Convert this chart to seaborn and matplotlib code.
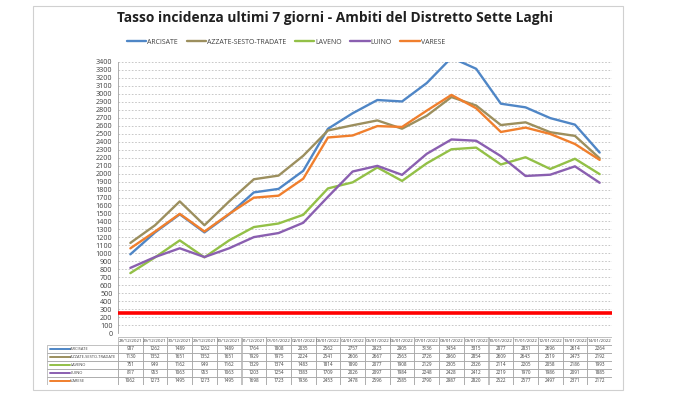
import matplotlib
matplotlib.use("Agg")
import matplotlib.pyplot as plt
import seaborn as sns
import pandas as pd
from matplotlib.patches import Rectangle
from matplotlib.lines import Line2D

dates = ["28/12/2021", "29/12/2021", "30/12/2021", "29/12/2021", "30/12/2021",
         "31/12/2021", "01/01/2022", "02/01/2022", "03/01/2022", "04/01/2022",
         "05/01/2022", "06/01/2022", "07/01/2022", "08/01/2022", "09/01/2022",
         "10/01/2022", "11/01/2022", "12/01/2022", "13/01/2022", "14/01/2022"]
arcisate = [987, 1262, 1489, 1262, 1489, 1764, 1808, 2035, 2562, 2757,
            2923, 2905, 3136, 3454, 3315, 2877, 2831, 2696, 2614, 2264]
azzate = [1130, 1352, 1651, 1352, 1651, 1929, 1975, 2224, 2541, 2606,
          2667, 2563, 2726, 2960, 2854, 2609, 2643, 2519, 2473, 2192]
laveno = [751, 949, 1162, 949, 1162, 1329, 1374, 1483, 1814, 1890,
          2077, 1908, 2129, 2305, 2326, 2114, 2205, 2058, 2186, 1993]
luino = [817, 953, 1063, 953, 1063, 1203, 1254, 1383, 1709, 2026,
         2097, 1984, 2248, 2428, 2412, 2219, 1970, 1986, 2091, 1885]
varese = [1062, 1273, 1495, 1273, 1495, 1698, 1723, 1936, 2453, 2478,
          2596, 2585, 2790, 2987, 2820, 2522, 2577, 2497, 2371, 2172]
series_names = ["ARCISATE", "AZZATE-SESTO-TRADATE", "LAVENO", "LUINO", "VARESE"]
threshold = 250

series = [arcisate, azzate, laveno, luino, varese]
colors = ["#4F86C6", "#9C8F5E", "#93C047", "#8A5FB0", "#F07F2D"]

rows = []
for name, vals in zip(series_names, series):
    for i, v in enumerate(vals):
        rows.append({"idx": i, "val": v, "serie": name})
df = pd.DataFrame(rows)

sns.set_style("white")
plt.rcParams['font.family'] = ['Open Sans', 'DejaVu Sans']

W, H = 680, 397
fig = plt.figure(figsize=(W / 100, H / 100), dpi=100)

# chart frame
fig.patches.append(Rectangle((33 / W, 1 - 390 / H), (623 - 33) / W, (390 - 6) / H,
                             transform=fig.transFigure, fill=False,
                             edgecolor="#D0D0D0", linewidth=0.8))

ax = fig.add_axes([118 / W, 1 - 333 / H, (612 - 118) / W, (333 - 62) / H])
n = len(dates)
sns.lineplot(data=df, x="idx", y="val", hue="serie", palette=colors,
             hue_order=series_names, linewidth=1.7, ax=ax, legend=False,
             sort=False)
ax.axhline(threshold, color="#FF0000", linewidth=2.6, zorder=3)

ax.set_xlim(-0.5, n - 0.5)
ax.set_ylim(0, 3400)
ax.set_yticks(range(0, 3401, 100))
ax.set_yticklabels([str(v) for v in range(0, 3401, 100)], fontsize=5.2, color="#404040")
ax.tick_params(axis="y", length=2, pad=2, width=0.6, color="#A0A0A0")
ax.set_xticks([])
ax.set_xlabel("")
ax.set_ylabel("")
for y in range(100, 3401, 100):
    ax.axhline(y, color="#BFBFBF", linewidth=0.6, linestyle=(0, (2, 2)), zorder=0)
for s in ["top", "right", "bottom"]:
    ax.spines[s].set_visible(False)
ax.spines["left"].set_color("#A0A0A0")
ax.spines["left"].set_linewidth(0.6)

fig.text(335 / W, 1 - 18 / H,
         "Tasso incidenza ultimi 7 giorni - Ambiti del Distretto Sette Laghi",
         ha="center", va="center", fontsize=9.9, fontweight="bold", color="#202020")

# legend
handles = [Line2D([0], [0], color=c, linewidth=1.7) for c in colors]
fig.legend(handles, series_names, loc="center left", bbox_to_anchor=(127 / W, 1 - 42 / H),
           ncol=5, frameon=False, fontsize=5.0, handlelength=2.8, handletextpad=0.15,
           columnspacing=1.2, labelcolor="#404040", borderaxespad=0, borderpad=0)

# data table
tab_ax = fig.add_axes([47 / W, 1 - 385 / H, (612 - 47) / W, (385 - 337) / H])
tab_ax.axis("off")
col_x0 = (118 - 47) / (612 - 47)
col_w = (1 - col_x0) / n
row_h = 1 / 6
grid_c = "#A8A8A8"
for j, d in enumerate(dates):
    x = col_x0 + j * col_w
    tab_ax.add_patch(Rectangle((x, 5 * row_h), col_w, row_h, fill=False, edgecolor=grid_c, linewidth=0.5))
    tab_ax.text(x + col_w / 2, 5.5 * row_h, d, ha="center", va="center", fontsize=3.2, color="#404040")
for i, (name, vals, c) in enumerate(zip(series_names, series, colors)):
    y = (4 - i) * row_h
    tab_ax.add_patch(Rectangle((0, y), col_x0, row_h, fill=False, edgecolor=grid_c, linewidth=0.5))
    tab_ax.plot([0.006, 0.04], [y + row_h / 2] * 2, color=c, linewidth=1.4)
    tab_ax.text(0.041, y + row_h / 2, name, ha="left", va="center", fontsize=2.9, color="#404040")
    for j, v in enumerate(vals):
        x = col_x0 + j * col_w
        tab_ax.add_patch(Rectangle((x, y), col_w, row_h, fill=False, edgecolor=grid_c, linewidth=0.5))
        tab_ax.text(x + col_w / 2, y + row_h / 2, str(v), ha="center", va="center", fontsize=3.3, color="#404040")
tab_ax.set_xlim(0, 1)
tab_ax.set_ylim(0, 1)

fig.savefig("out.png", dpi=100, facecolor="white")
